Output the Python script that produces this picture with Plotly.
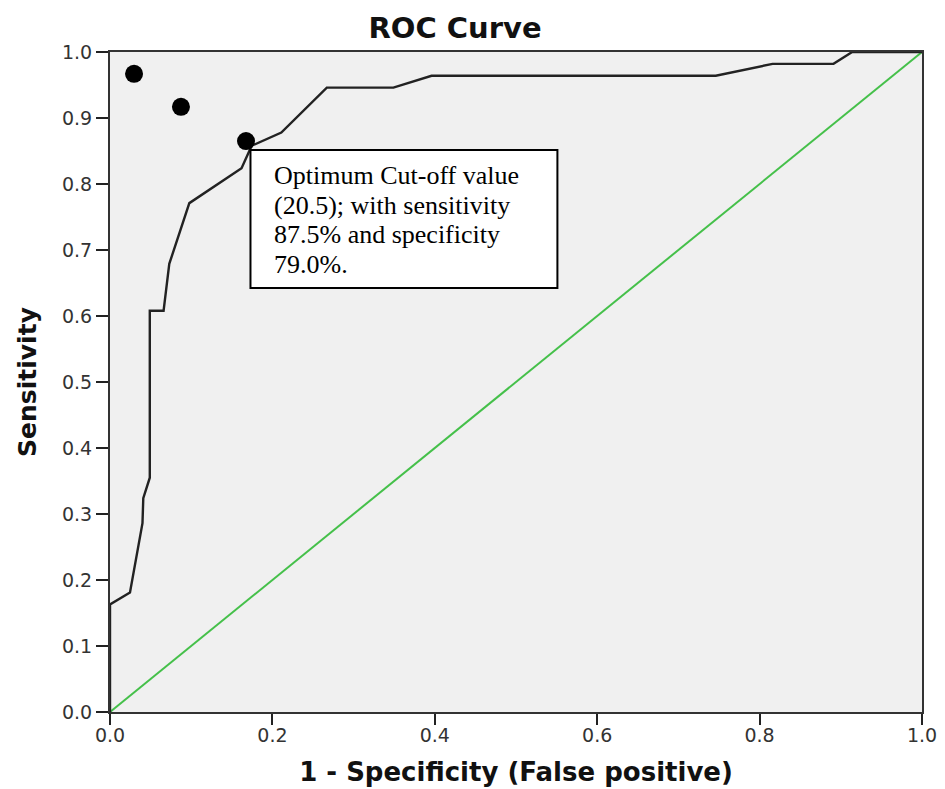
import plotly.graph_objects as go

# ROC curve
fpr = [0.0, 0.0, 0.0246, 0.040, 0.041, 0.049, 0.049, 0.066, 0.073, 0.0977,
       0.162, 0.1745, 0.211, 0.267, 0.349, 0.396, 0.746, 0.816, 0.891, 0.914, 1.0]
tpr = [0.0, 0.163, 0.181, 0.286, 0.324, 0.355, 0.608, 0.608, 0.679, 0.771,
       0.824, 0.858, 0.878, 0.946, 0.946, 0.964, 0.964, 0.982, 0.982, 1.0, 1.0]

# reference (chance) line
ref_x = [0.0, 1.0]
ref_y = [0.0, 1.0]

# highlighted points
pt_x = [0.0296, 0.0874, 0.1675]
pt_y = [0.967, 0.917, 0.865]

tick_vals_x = [0.0, 0.2, 0.4, 0.6, 0.8, 1.0]
tick_text_x = ["0.0", "0.2", "0.4", "0.6", "0.8", "1.0"]
tick_vals_y = [0.0, 0.1, 0.2, 0.3, 0.4, 0.5, 0.6, 0.7, 0.8, 0.9, 1.0]
tick_text_y = ["0.0", "0.1", "0.2", "0.3", "0.4", "0.5", "0.6", "0.7", "0.8", "0.9", "1.0"]

note_lines = ["Optimum Cut-off value", "(20.5); with sensitivity",
              "87.5% and specificity", "79.0%."]

W, H = 937, 781

fig = go.Figure()
fig.add_trace(go.Scatter(x=ref_x, y=ref_y, mode="lines",
                         line=dict(color="#45c04a", width=2), hoverinfo="skip"))
fig.add_trace(go.Scatter(x=fpr, y=tpr, mode="lines",
                         line=dict(color="#222222", width=2.4), hoverinfo="skip"))
fig.add_trace(go.Scatter(x=pt_x, y=pt_y, mode="markers",
                         marker=dict(color="black", size=18), hoverinfo="skip",
                         cliponaxis=False))

fig.add_shape(type="rect", xref="x", yref="y", x0=0.173, x1=0.551, y0=0.6424, y1=0.8515,
              line=dict(color="black", width=2), fillcolor="white", layer="above")
for i, line in enumerate(note_lines):
    fig.add_annotation(xref="x", yref="y", x=0.1995, y=0.813 - i * 0.045,
                       xanchor="left", yanchor="middle",
                       text=line, showarrow=False, align="left",
                       font=dict(family="Liberation Serif", size=26, color="black"))

fig.update_layout(
    width=W, height=H,
    margin=dict(l=102, r=23, t=44, b=77, autoexpand=False),
    paper_bgcolor="white", plot_bgcolor="#f0f0f0",
    showlegend=False,
    title=dict(text="<b>ROC Curve</b>", x=447 / W, xref="container", xanchor="center",
               y=1 - 20 / H, yref="container", yanchor="middle",
               font=dict(family="DejaVu Sans", size=29, color="#111111")),
    font=dict(family="DejaVu Sans", color="#333333"),
)
fig.update_xaxes(range=[0, 1], tickvals=tick_vals_x, ticktext=tick_text_x,
                 ticks="outside", ticklen=11, tickwidth=2, tickcolor="#222",
                 ticklabelstandoff=-6,
                 showgrid=False, zeroline=False, showline=True, linecolor="#333",
                 linewidth=2, mirror=True, automargin=False,
                 tickfont=dict(family="DejaVu Sans", size=19, color="#333"),
                 title=dict(text="<b>1 - Specificity (False positive)</b>", standoff=18,
                            font=dict(family="DejaVu Sans", size=26, color="#111")))
fig.update_yaxes(range=[0, 1], tickvals=tick_vals_y, ticktext=tick_text_y,
                 ticks="outside", ticklen=12, tickwidth=2, tickcolor="#222",
                 showgrid=False, zeroline=False, showline=True, linecolor="#333",
                 linewidth=2, mirror=True, automargin=False,
                 tickfont=dict(family="DejaVu Sans", size=19, color="#333"),
                 title=dict(text="<b>Sensitivity</b>", standoff=18,
                            font=dict(family="DejaVu Sans", size=25, color="#111")))

fig.write_html("out.html")
